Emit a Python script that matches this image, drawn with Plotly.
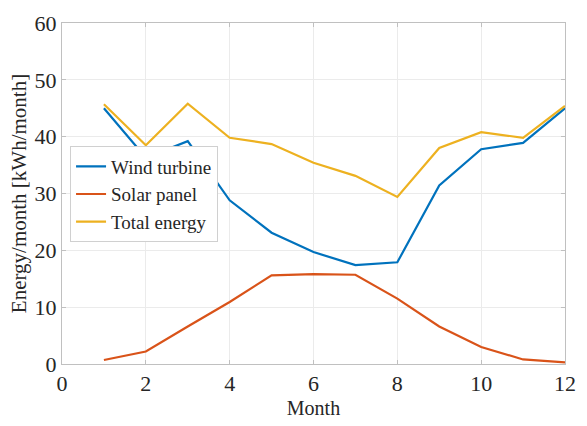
import plotly.graph_objects as go

months = list(range(1, 13))
wind = [45.0, 36.3, 39.2, 28.8, 23.1, 19.7, 17.4, 17.9, 31.4, 37.8, 38.9, 45.0]
solar = [0.7, 2.2, 6.6, 10.9, 15.6, 15.8, 15.7, 11.5, 6.6, 3.0, 0.8, 0.3]
total = [45.7, 38.5, 45.8, 39.8, 38.7, 35.4, 33.1, 29.4, 38.0, 40.8, 39.8, 45.4]

names = ["Wind turbine", "Solar panel", "Total energy"]
colors = ["#0072BD", "#D95319", "#EDB120"]

SERIF = "Liberation Serif"

fig = go.Figure()
for name, ys, c in zip(names, [wind, solar, total], colors):
    fig.add_trace(go.Scatter(x=months, y=ys, mode="lines", name=name,
                             line=dict(color=c, width=2.2)))

axis_common = dict(showline=True, linecolor="#c0c0c0", linewidth=1, mirror="ticks",
                   ticks="inside", ticklen=4, tickcolor="#c0c0c0",
                   showgrid=True, gridcolor="#ebebeb", gridwidth=1, zeroline=False,
                   tickfont=dict(family=SERIF, size=22, color="#262626"))

fig.update_layout(
    width=587, height=426,
    margin=dict(l=62, r=11, t=14, b=61),
    paper_bgcolor="white", plot_bgcolor="white",
    font=dict(family=SERIF, color="#262626"),
    xaxis=dict(range=[0, 12], dtick=2,
               title=dict(text="Month", font=dict(family=SERIF, size=20), standoff=5), **axis_common),
    yaxis=dict(range=[0, 60], dtick=10,
               title=dict(text="Energy/month [kWh/month]", font=dict(family=SERIF, size=21), standoff=2),
               **axis_common),
    legend=dict(x=0.016, y=0.638, xanchor="left", yanchor="top",
                bgcolor="white", bordercolor="#d0d0d0", borderwidth=1,
                font=dict(family=SERIF, size=19, color="#262626"), tracegroupgap=0,
                itemwidth=30),
    showlegend=True,
)

fig.write_html("out.html")
